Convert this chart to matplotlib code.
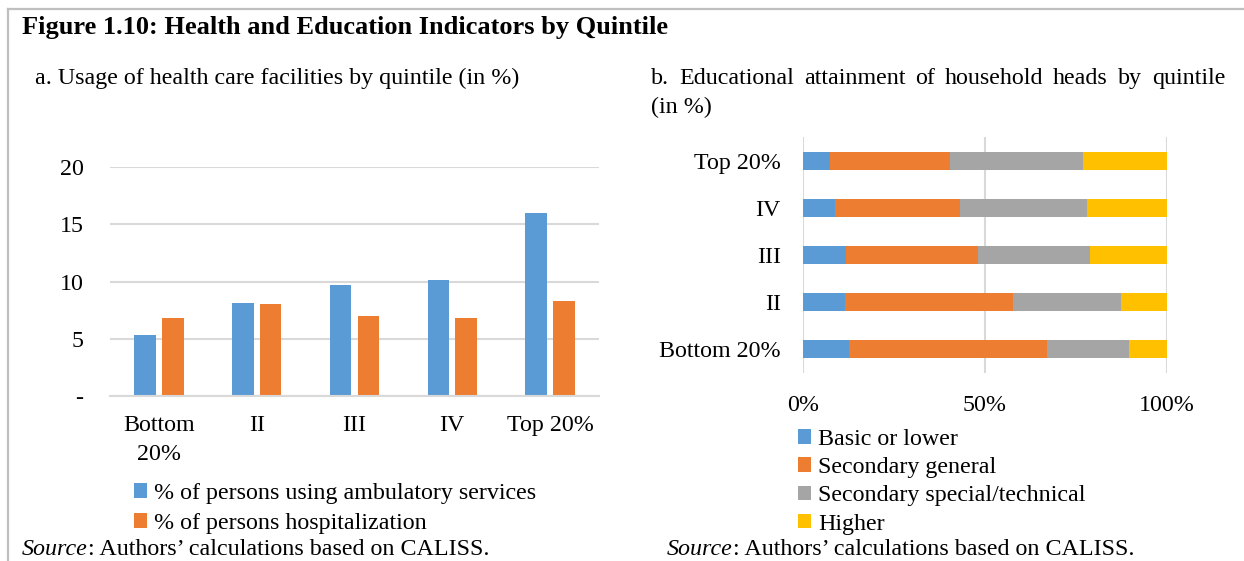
import numpy as np
import matplotlib
matplotlib.use('Agg')
import matplotlib.pyplot as plt
from matplotlib.lines import Line2D

# Panel a: usage of health care facilities (in %)
quintiles_a = ['Bottom\n20%', 'II', 'III', 'IV', 'Top 20%']
ambulatory = [5.3, 8.1, 9.7, 10.1, 16.0]
hospitalization = [6.8, 8.0, 7.0, 6.8, 8.3]

# Panel b: educational attainment of household heads (in %)
quintiles_b = ['Bottom 20%', 'II', 'III', 'IV', 'Top 20%']
basic = [12.5, 11.5, 11.8, 8.8, 7.4]
sec_general = [54.5, 46.2, 36.2, 34.2, 32.9]
sec_special = [22.6, 29.7, 30.8, 35.1, 36.5]
higher = [10.4, 12.6, 21.2, 21.9, 23.2]
edu_labels = ['Basic or lower', 'Secondary general',
              'Secondary special/technical', 'Higher']

BLUE, ORANGE, GRAY, YELLOW = '#5B9BD5', '#ED7D31', '#A5A5A5', '#FFC000'
GRID = '#D9D9D9'
FS = 17.3

plt.rcParams['font.family'] = ['Liberation Serif', 'DejaVu Serif']
plt.rcParams['font.size'] = FS

W, H = 1244, 561
fig = plt.figure(figsize=(W / 100, H / 100), dpi=100)


def fx(px):
    return px / W


def fy(py):
    return 1 - py / H


# frame lines of the box around the figure
fig.add_artist(Line2D([fx(8), 1], [fy(9), fy(9)], color='#BFBFBF', lw=1.6))
fig.add_artist(Line2D([fx(8), fx(8)], [fy(9), 0], color='#BFBFBF', lw=1.6))

fig.text(fx(22), fy(34), 'Figure 1.10: Health and Education Indicators by Quintile',
         fontsize=19, fontweight='bold', va='baseline')
fig.text(fx(35), fy(84), 'a. Usage of health care facilities by quintile (in %)',
         va='baseline')

# justified first line of subtitle b
renderer = fig.canvas.get_renderer()
words = 'b. Educational attainment of household heads by quintile'.split()
objs = [fig.text(0, fy(84), w, va='baseline') for w in words]
widths = [o.get_window_extent(renderer).width for o in objs]
x0, x1 = 651, 1225
gap = (x1 - x0 - sum(widths)) / (len(words) - 1)
x = x0
for o, w in zip(objs, widths):
    o.set_x(fx(x))
    x += w + gap
fig.text(fx(651), fy(113), '(in %)', va='baseline')

# ---- panel a ----
ax1 = fig.add_axes([fx(110), fy(396), (599 - 110) / W, (396 - 167) / H])
xa = np.arange(len(quintiles_a))
bw = 0.22
ax1.bar(xa - 0.142, ambulatory, bw, color=BLUE, label='% of persons using ambulatory services')
ax1.bar(xa + 0.142, hospitalization, bw, color=ORANGE, label='% of persons hospitalization')
ax1.set_xlim(-0.5, len(quintiles_a) - 0.5)
ax1.set_ylim(0, 20)
ax1.set_yticks([0, 5, 10, 15, 20])
ax1.set_yticklabels(['-', '5', '10', '15', '20'])
ax1.set_xticks(xa)
ax1.set_xticklabels(quintiles_a, linespacing=1.45)
ax1.tick_params(length=0)
ax1.tick_params(axis='y', pad=19)
ax1.tick_params(axis='x', pad=14)
ax1.set_axisbelow(True)
ax1.grid(axis='y', color=GRID, lw=1.5)
for s in ['top', 'right', 'left']:
    ax1.spines[s].set_visible(False)
ax1.spines['bottom'].set_color(GRID)
ax1.spines['bottom'].set_linewidth(1.5)
ax1.legend(loc='upper left', bbox_to_anchor=(fx(134), fy(483)),
           bbox_transform=fig.transFigure, frameon=False, handlelength=0.55,
           handleheight=0.55, handletextpad=0.3, labelspacing=0.38,
           borderpad=0, borderaxespad=0)

# ---- panel b ----
ax2 = fig.add_axes([fx(803), fy(373), (1167 - 803) / W, (373 - 137) / H])
yb = np.arange(len(quintiles_b))
left = np.zeros(len(quintiles_b))
for vals, col, lab in zip([basic, sec_general, sec_special, higher],
                          [BLUE, ORANGE, GRAY, YELLOW], edu_labels):
    ax2.barh(yb, vals, 0.38, left=left, color=col, label=lab)
    left += np.array(vals)
ax2.set_xlim(0, 100)
ax2.set_ylim(-0.5, len(quintiles_b) - 0.5)
ax2.set_xticks([0, 50, 100])
ax2.set_xticklabels(['0%', '50%', '100%'])
ax2.set_yticks(yb)
ax2.set_yticklabels(quintiles_b)
ax2.tick_params(length=0)
ax2.tick_params(axis='y', pad=16)
ax2.tick_params(axis='x', pad=16)
ax2.set_axisbelow(True)
ax2.grid(axis='x', color=GRID, lw=1.5)
for s in ax2.spines.values():
    s.set_visible(False)
ax2.legend(loc='upper left', bbox_to_anchor=(fx(798), fy(429)),
           bbox_transform=fig.transFigure, frameon=False, handlelength=0.55,
           handleheight=0.55, handletextpad=0.3, labelspacing=0.3,
           borderpad=0, borderaxespad=0)

# source lines at the bottom edge
for xs in (22, 667):
    t = fig.text(fx(xs), fy(555), 'Source', style='italic', va='baseline')
    wpx = t.get_window_extent(renderer).width
    fig.text(fx(xs + wpx), fy(555), ': Authors\u2019 calculations based on CALISS.',
             va='baseline')

fig.savefig('out.png', dpi=100)
